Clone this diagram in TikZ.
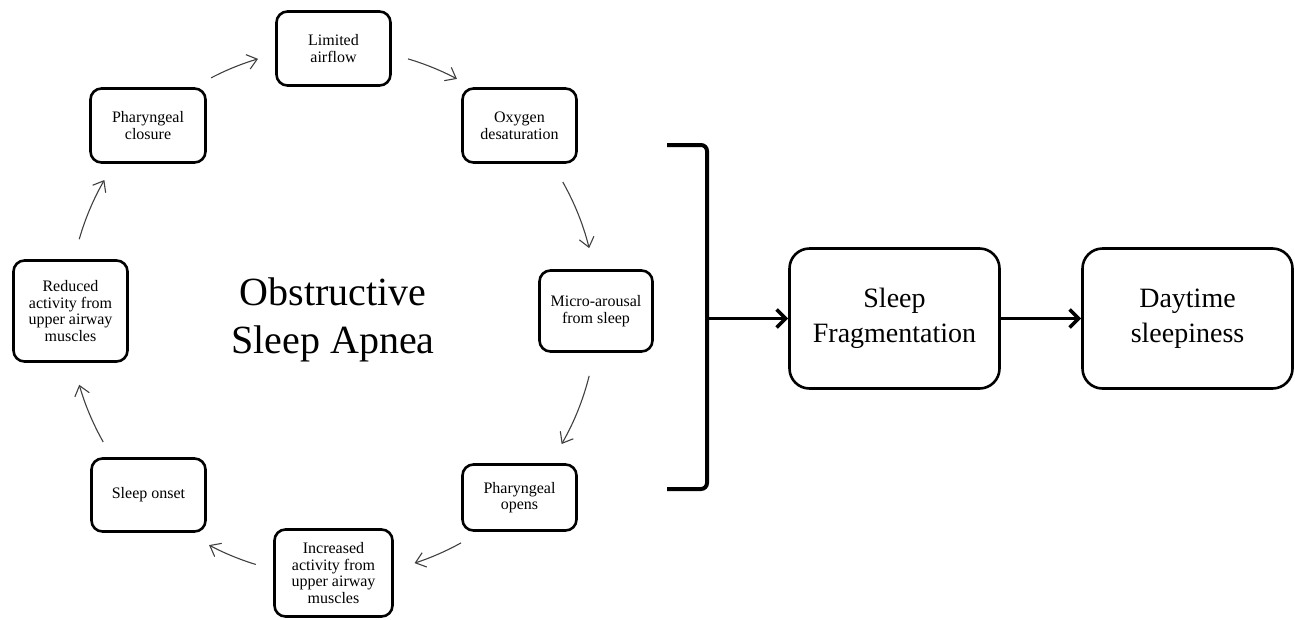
\documentclass[tikz,border=0pt]{standalone}
\usepackage{fontspec}
\setmainfont{Liberation Serif}
\usetikzlibrary{arrows.meta}
\begin{document}
\begin{tikzpicture}[x=1pt,y=-1pt,
  sbox/.style={draw, line width=2.6pt, rounded corners=11pt, align=center,
    font=\fontsize{16}{16.7}\selectfont, inner sep=2pt},
  bbox/.style={draw, line width=2.6pt, rounded corners=20pt, align=center,
    font=\fontsize{28}{35}\selectfont, minimum width=210pt, minimum height=140pt},
  cyc/.style={line width=1.1pt, draw=black!75,
    -{Straight Barb[length=9.5pt,width=15pt]}},
  thickarr/.style={line width=3.6pt, -{Straight Barb[length=9pt,width=18pt]}},
  brk/.style={line width=4pt, rounded corners=6pt}
]
\useasboundingbox (0,0) rectangle (1295,619);
\coordinate (O) at (333,312);
% cycle boxes
\node[sbox, minimum width=114pt, minimum height=74pt] (la) at (333.5,48.5) {Limited\\airflow};
\node[sbox, minimum width=115pt, minimum height=74pt] (pc) at (148,125.5) {Pharyngeal\\closure};
\node[sbox, minimum width=114pt, minimum height=74pt] (od) at (519.5,125.5) {Oxygen\\desaturation};
\node[sbox, minimum width=113pt, minimum height=81pt] (ma) at (596,311) {Micro-arousal\\from sleep};
\node[sbox, minimum width=114pt, minimum height=66pt] (po) at (519.5,497.5) {Pharyngeal\\opens};
\node[sbox, minimum width=118pt, minimum height=87pt] (ia) at (333.5,573) {Increased\\activity from\\upper airway\\muscles};
\node[sbox, minimum width=114pt, minimum height=73pt] (so) at (148.5,495) {Sleep onset};
\node[sbox, minimum width=114pt, minimum height=101pt] (ra) at (70.5,311) {Reduced\\activity from\\upper airway\\muscles};
% title
\node[font=\fontsize{40}{48}\selectfont, align=center, inner sep=0pt] (title) at (333,320) {Obstructive\\Sleep Apnea};
% cycle arrows
\foreach \a/\b in {117.5/106.5, 73.5/62, 29.5/14, -14/-30, -61/-72, -107/-118, -150.5/-164, 164/150}
  \draw[cyc] ([shift={(\a:264pt)}]O) arc[start angle=\a, end angle=\b, radius=264pt];
% right part
\node[bbox] (sf) at (894.5,318.5) {Sleep\\Fragmentation};
\node[bbox] (ds) at (1187.5,318.5) {Daytime\\sleepiness};
\coordinate (bt) at (667,145);
\coordinate (bc1) at (707,145);
\coordinate (bc2) at (707,489);
\coordinate (bb) at (667,489);
\coordinate (bm) at (707,318.5);
\draw[brk] (bt) -- (bc1) -- (bc2) -- (bb);
\draw[thickarr] (bm) -- (sf.west);
\draw[thickarr] (sf.east) -- (ds.west);
\end{tikzpicture}
\end{document}
